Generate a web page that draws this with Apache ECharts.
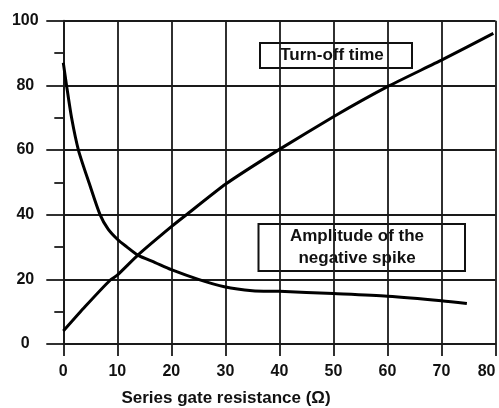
<!DOCTYPE html>
<html>
<head>
<meta charset="utf-8">
<script src="https://cdn.jsdelivr.net/npm/echarts@6/dist/echarts.min.js"></script>
<style>
  html, body { margin: 0; padding: 0; background: #fff; overflow: hidden; }
  #chart { width: 499px; height: 408px; }
</style>
</head>
<body>
<div id="chart"></div>
<script>
// Series gate resistance (ohm) vs. turn-off time and negative spike amplitude
const xTicks = [0, 10, 20, 30, 40, 50, 60, 70, 80];
const yTicks = [0, 20, 40, 60, 80, 100];

const turnOffR = [0, 4, 8.7, 10, 13.8, 20, 22.8, 30, 40, 50, 60, 70, 79.6];
const turnOffT = [4, 11.5, 19.8, 21.3, 27.5, 36.3, 40, 49.4, 60.2, 70.3, 79.6, 87.8, 96.1];

const spikeR = [0, 0.6, 1.55, 2.8, 4.8, 6.8, 8.3, 10, 11.7, 13.8, 17, 20, 25, 29.8, 35, 40, 50, 60, 70, 74.7];
const spikeV = [87, 80, 69.8, 60, 49.7, 40, 35.5, 32.4, 30.1, 27.5, 25.2, 23, 20, 17.7, 16.5, 16.3, 15.6, 14.8, 13.4, 12.5];

const labelTurnOff = 'Turn-off time';
const labelSpike = 'Amplitude of the\nnegative spike';
const xName = 'Series gate resistance (\u03A9)';

const FONT = 'Arial, "Liberation Sans", sans-serif';
const INK = '#111';
const GRID = '#1a1a1a';

const chart = echarts.init(document.getElementById('chart'), null, { renderer: 'canvas' });

const pairs = (xs, ys) => xs.map((x, i) => [x, ys[i]]);

chart.setOption({
  animation: false,
  backgroundColor: '#fff',
  grid: {
    left: 63.3, right: 3.5, top: 20.7, bottom: 64,
    containLabel: false,
    outerBoundsMode: 'none'
  },
  xAxis: {
    type: 'value',
    min: xTicks[0],
    max: xTicks[xTicks.length - 1],
    interval: 10,
    axisLine: { show: true, lineStyle: { color: GRID, width: 1.8 } },
    axisTick: { show: true, length: 12, lineStyle: { color: GRID, width: 1.8 } },
    splitLine: { show: true, lineStyle: { color: GRID, width: 1.8 } },
    axisLabel: {
      margin: 20,
      color: INK,
      fontFamily: FONT,
      fontWeight: 'bold',
      fontSize: 16,
      hideOverlap: false,
      alignMaxLabel: 'right'
    }
  },
  yAxis: {
    type: 'value',
    min: yTicks[0],
    max: yTicks[yTicks.length - 1],
    interval: 20,
    axisLine: { show: true, lineStyle: { color: GRID, width: 1.8 } },
    axisTick: { show: true, length: 17, lineStyle: { color: GRID, width: 1.8 } },
    minorTick: { show: true, splitNumber: 2, length: 9, lineStyle: { color: GRID, width: 1.8 } },
    splitLine: { show: true, lineStyle: { color: GRID, width: 1.8 } },
    axisLabel: {
      margin: 38,
      align: 'center',
      color: INK,
      fontFamily: FONT,
      fontWeight: 'bold',
      fontSize: 16
    }
  },
  series: [
    {
      name: labelTurnOff,
      type: 'line',
      data: pairs(turnOffR, turnOffT),
      showSymbol: false,
      smooth: 0.15,
      lineStyle: { color: '#000', width: 3 },
      z: 5
    },
    {
      name: 'Amplitude of the negative spike',
      type: 'line',
      data: pairs(spikeR, spikeV),
      showSymbol: false,
      smooth: 0.25,
      lineStyle: { color: '#000', width: 3 },
      z: 5
    }
  ],
  graphic: [
    {
      type: 'group',
      z: 100,
      children: [
        {
          type: 'rect',
          shape: { x: 260, y: 43, width: 152, height: 25 },
          style: { fill: '#fff', stroke: '#111', lineWidth: 2 }
        },
        {
          type: 'text',
          x: 332, y: 55.5,
          style: {
            text: labelTurnOff, fill: INK, font: 'bold 17px ' + FONT,
            textAlign: 'center', textVerticalAlign: 'middle'
          }
        },
        {
          type: 'rect',
          shape: { x: 258.5, y: 224, width: 206.5, height: 47 },
          style: { fill: '#fff', stroke: '#111', lineWidth: 2 }
        },
        {
          type: 'text',
          x: 357, y: 247.5,
          style: {
            text: labelSpike, fill: INK, font: 'bold 17px ' + FONT,
            textAlign: 'center', textVerticalAlign: 'middle', lineHeight: 21.6
          }
        },
        {
          type: 'text',
          x: 226, y: 398,
          style: {
            text: xName, fill: INK, font: 'bold 17px ' + FONT,
            textAlign: 'center', textVerticalAlign: 'middle'
          }
        }
      ]
    }
  ]
});
</script>
</body>
</html>
